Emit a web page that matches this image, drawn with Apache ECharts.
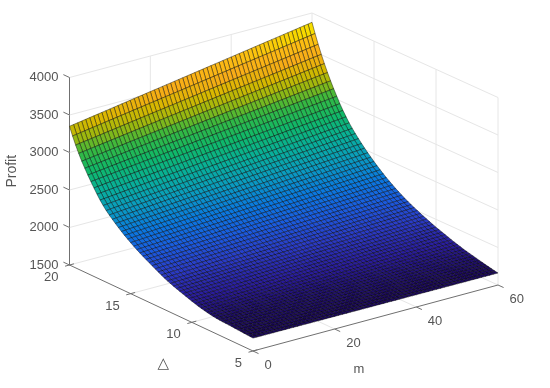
<!DOCTYPE html>
<html><head><meta charset="utf-8">
<style>html,body{margin:0;padding:0;background:#fff}#c{width:550px;height:388px;filter:blur(0.45px)}</style>
<script src="https://cdn.jsdelivr.net/npm/echarts@6/dist/echarts.min.js"></script>
</head><body><div id="c"></div>
<script>
const profitTicks=[1500,2000,2500,3000,3500,4000];
const mTicks=[0,20,40,60];
const deltaTicks=[5,10,15,20];
const mName='m', deltaName='△', profitName='Profit';
// surface rows, delta = 5, 5.25, ... 20, read along the two visible edges
const profitAtM0=[1672,1675,1678,1681,1684,1687,1690,1693,1696,1698,1700,1703,1706,1712,1719,1727,1736,1746,1757,1769,1782,1796,1810,1824,1838,1853,1868,1884,1900,1920,1941,1962,1984,2007,2029,2052,2075,2100,2125,2152,2180,2209,2239,2271,2305,2340,2377,2415,2455,2503,2556,2615,2680,2745,2813,2885,2960,3045,3137,3239,3350];
const profitAtM60=[1660,1668,1677,1686,1695,1705,1715,1725,1735,1746,1757,1768,1780,1793,1806,1820,1835,1850,1865,1880,1895,1912,1929,1947,1965,1984,2004,2024,2045,2067,2090,2115,2140,2167,2195,2225,2255,2288,2322,2358,2395,2434,2474,2516,2560,2606,2654,2705,2760,2822,2888,2960,3040,3122,3208,3300,3400,3505,3620,3745,3876];
const colorLevels=[1680,1800,1950,2100,2250,2450,2650,2850,3050,3200,3350,3500,3650,3780,3880];
const colorRamp=['#1c0a5c','#2a1c9e','#2a3cc8','#1a5ce0','#0a78e0','#0a9cc0','#08b098','#10b868','#38b840','#98b810','#d8b800','#f8ac18','#fcbc14','#f8d800','#f4ec00'];

const mSteps=60, deltaSteps=60;
const DX_M=245,DY_M=66,DX_D=183.5,DY_D=86,PX_PER_Z=0.075,BACK_DX=2.5,BACK_DY=1.5;
function proj(m,d,z){
  const s=m/60,t=(d-5)/15;
  return [DX_D+s*DX_M-t*DX_D-s*t*BACK_DX, z+(s*DY_M+(d-20)/15*DY_D-s*t*BACK_DY)/PX_PER_Z];
}
function profitAt(i,j){ // i along m, j along delta
  const t=i/mSteps; return profitAtM0[j]*(1-t)+profitAtM60[j]*t;
}
function colorOf(z){
  if(z<=colorLevels[0])return colorRamp[0];
  for(let k=1;k<colorLevels.length;k++){
    if(z<=colorLevels[k]){
      const t=(z-colorLevels[k-1])/(colorLevels[k]-colorLevels[k-1]);
      return echarts.color.lerp(t,[colorRamp[k-1],colorRamp[k]]);
    }
  }
  return colorRamp[colorRamp.length-1];
}
const zMin=profitTicks[0], zMax=profitTicks[profitTicks.length-1];
const walls=[];
profitTicks.forEach(z=>{walls.push([0,20,z,60,20,z]);walls.push([60,20,z,60,5,z]);});
mTicks.forEach(m=>{ if(m>0)walls.push([m,20,zMin,m,20,zMax]); if(m>0&&m<60)walls.push([m,5,zMin,m,20,zMin]);});
deltaTicks.forEach(d=>{ if(d<20)walls.push([60,d,zMin,60,d,zMax]); if(d>5&&d<20)walls.push([0,d,zMin,60,d,zMin]);});
const axes=[[0,20,zMin,0,5,zMin],[0,5,zMin,60,5,zMin]];
mTicks.forEach(m=>axes.push([m,5,zMin,m,4.55,zMin]));
deltaTicks.forEach(d=>axes.push([-1.1,d,zMin,1.1,d,zMin]));
profitTicks.forEach(z=>axes.push([0,20,z,0,20.5,z]));
const cells=[];
for(let j=deltaSteps-1;j>=0;j--)for(let i=mSteps-1;i>=0;i--)cells.push([i,j]);
const texts=[];
mTicks.forEach(m=>texts.push([String(m),m,5,11.5,14,'left']));
deltaTicks.forEach(d=>texts.push([String(d),0,d,-11,12.5,'right']));

function segRender(list,color,w){
  return (p,api)=>{
    const s=list[p.dataIndex];
    const a=api.coord(proj(s[0],s[1],s[2])),b=api.coord(proj(s[3],s[4],s[5]));
    return {type:'line',silent:true,shape:{x1:a[0],y1:a[1],x2:b[0],y2:b[1]},style:{stroke:color,lineWidth:w}};
  };
}
const idx=l=>l.map((_,i)=>[i,0]);
const dv=i=>5+i*15/deltaSteps, mv=i=>i*60/mSteps;
const chart=echarts.init(document.getElementById('c'),null,{renderer:'canvas'});
chart.setOption({
  animation:false,backgroundColor:'#fff',
  grid:{left:69.5,top:77.5,width:428.5,height:187.5,containLabel:false,outerBoundsMode:'none'},
  xAxis:{type:'value',show:false,min:0,max:428.5},
  yAxis:{type:'value',min:zMin,max:zMax,interval:500,position:'left',
    name:profitName,nameLocation:'middle',nameGap:48,nameRotate:90,
    nameTextStyle:{fontFamily:'Liberation Sans',fontSize:14,color:'#555'},
    splitLine:{show:false},axisTick:{show:false},
    axisLine:{show:true,lineStyle:{color:'#707070',width:1}},
    axisLabel:{margin:11,fontFamily:'Liberation Sans',fontSize:13,color:'#555',padding:[0,0,5,0],showMinLabel:true,showMaxLabel:true,formatter:v=>String(v)}},
  series:[
   {type:'custom',coordinateSystem:'cartesian2d',clip:false,z:1,silent:true,data:idx(walls),renderItem:segRender(walls,'#e6e6e6',1)},
   {type:'custom',coordinateSystem:'cartesian2d',clip:false,z:2,silent:true,progressive:0,data:cells,
    renderItem:(p,api)=>{
      const c=cells[p.dataIndex],i=c[0],j=c[1];
      const corner=(a,b)=>api.coord(proj(mv(a),dv(b),profitAt(a,b)));
      const z=(profitAt(i,j)+profitAt(i+1,j)+profitAt(i,j+1)+profitAt(i+1,j+1))/4;
      return {type:'polygon',silent:true,shape:{points:[corner(i,j),corner(i+1,j),corner(i+1,j+1),corner(i,j+1)]},
        style:{fill:colorOf(z),stroke:'rgba(0,0,0,0.7)',lineWidth:0.6}};
    }},
   {type:'custom',coordinateSystem:'cartesian2d',clip:false,z:3,silent:true,data:idx(axes),renderItem:segRender(axes,'#707070',1)},
   {type:'custom',coordinateSystem:'cartesian2d',clip:false,z:4,silent:true,data:idx(texts),
    renderItem:(p,api)=>{
      const t=texts[p.dataIndex],a=api.coord(proj(t[1],t[2],zMin));
      return {type:'text',silent:true,x:a[0]+t[3],y:a[1]+t[4],style:{text:t[0],fill:'#555',font:'13px "Liberation Sans"',textAlign:t[5],textVerticalAlign:'middle'}};
    }},
   {type:'custom',coordinateSystem:'cartesian2d',clip:false,z:4,silent:true,data:[[0,0],[1,0]],
    renderItem:(p,api)=>{
      const n=p.dataIndex===0;
      const a=api.coord(n?proj(30,5,zMin):proj(0,12.5,zMin));
      return {type:'text',silent:true,x:a[0]+(n?-16.5:2),y:a[1]+(n?51:56),style:{text:n?mName:deltaName,fill:'#555',font:n?'13px "Liberation Sans"':'15px "DejaVu Sans"',textAlign:'center',textVerticalAlign:'middle'}};
    }}
  ]
});
</script></body></html>
